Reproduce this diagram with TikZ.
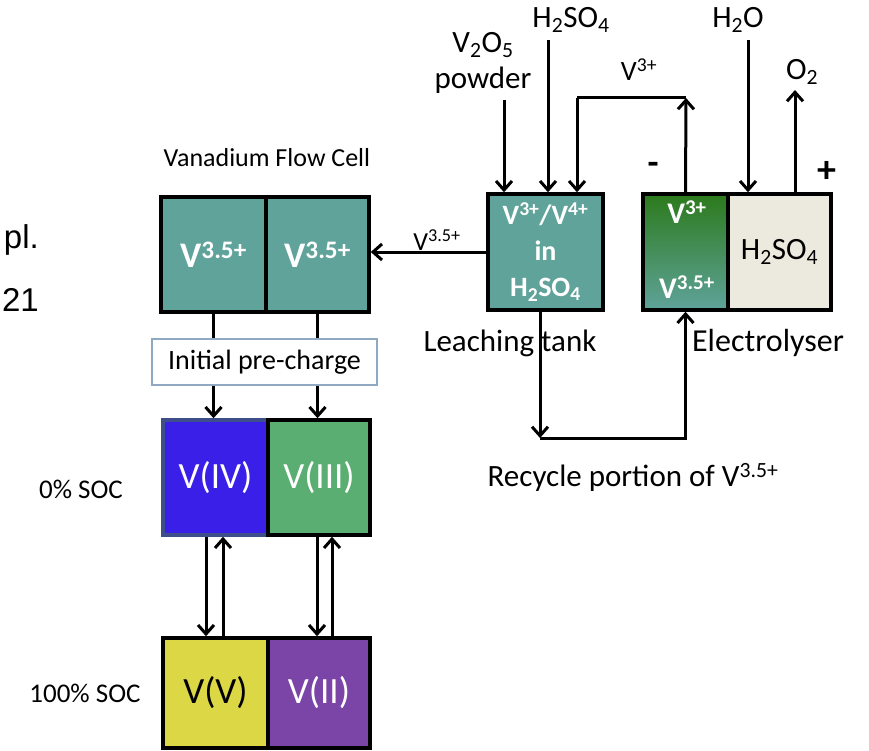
\documentclass[tikz,border=0pt]{standalone}
\usepackage{fontspec}
\setmainfont{Carlito}
\newfontfamily\robfont{Liberation Sans}
\usetikzlibrary{arrows.meta}
\definecolor{tealc}{HTML}{5FA39A}
\definecolor{blueiv}{HTML}{3A1FE8}
\definecolor{greeniii}{HTML}{5BAE72}
\definecolor{yellowv}{HTML}{DCD845}
\definecolor{purpleii}{HTML}{7B45A8}
\definecolor{beige}{HTML}{ECE9DF}
\definecolor{darkg}{HTML}{2C7A1C}
\definecolor{lightg}{HTML}{9DBB6B}
\definecolor{pcborder}{HTML}{8EA9C1}
\definecolor{ivborder}{HTML}{3D4E8A}
\tikzset{
  box/.style={draw=black, line width=3.5pt, inner sep=0pt, text=white},
  wl/.style={line width=3pt, draw=black},
  arr/.style={wl, -{Straight Barb[length=9pt,width=16pt]}},
  lbl/.style={font=\fontsize{31}{35}\selectfont, inner sep=0pt},
  slbl/.style={font=\fontsize{26}{30}\selectfont, inner sep=0pt},
  sidelbl/.style={font=\fontsize{27}{31}\selectfont, inner sep=0pt},
  big/.style={font=\fontsize{37}{42}\selectfont},
  bigb/.style={font=\bfseries\fontsize{36}{40}\selectfont},
}
\begin{document}
\begin{tikzpicture}[x=1pt,y=-1pt]
\useasboundingbox (0,0) rectangle (869,751);

% side fragments
\node[inner sep=0pt, anchor=east, font=\robfont\fontsize{33}{36}\selectfont] (pl) at (39,240) {pl.};
\node[inner sep=0pt, anchor=east, font=\robfont\fontsize{33}{36}\selectfont] (n21) at (39,300) {21};
\node[sidelbl] (soc0) at (81,489) {0\% SOC};
\node[sidelbl] (soc100) at (85,693) {100\% SOC};

% flow cell
\node[slbl] (fct) at (267,158) {Vanadium Flow Cell};
\node[box, fill=tealc, minimum width=105pt, minimum height=115pt, bigb] (fc1) at (213.5,254.5) {V\textsuperscript{3.5+}};
\node[box, fill=tealc, minimum width=103pt, minimum height=115pt, bigb] (fc2) at (317.5,254.5) {V\textsuperscript{3.5+}};

\node[draw=pcborder, line width=1.3pt, minimum width=225pt, minimum height=46pt, inner sep=0pt, font=\fontsize{28}{32}\selectfont] (pc) at (264.5,362) {Initial pre-charge};

\node[box, fill=blueiv, draw=ivborder, minimum width=105pt, minimum height=115pt, big] (s1) at (215.5,477.5) {V(IV)};
\node[box, fill=greeniii, minimum width=102pt, minimum height=115pt, big] (s2) at (319,477.5) {V(III)};
\node[box, fill=yellowv, text=black, minimum width=105pt, minimum height=110pt, big] (t1) at (215.5,693) {V(V)};
\node[box, fill=purpleii, minimum width=102pt, minimum height=110pt, big] (t2) at (319,693) {V(II)};

\draw[wl] (fc1.south) -- (fc1.south |- pc.north);
\draw[wl] (fc2.south) -- (fc2.south |- pc.north);
\draw[arr] (fc1.south |- pc.south) -- (fc1.south |- s1.north);
\draw[arr] (fc2.south |- pc.south) -- (fc2.south |- s2.north);

\draw[arr] ([xshift=-9.5pt]s1.south) -- ([xshift=-9.5pt]t1.north);
\draw[arr] ([xshift=7.5pt]t1.north) -- ([xshift=7.5pt]s1.south);
\draw[arr] ([xshift=-2pt]s2.south) -- ([xshift=-2pt]t2.north);
\draw[arr] ([xshift=13pt]t2.north) -- ([xshift=13pt]s2.south);

% leaching tank
\node[box, fill=tealc, minimum width=115pt, minimum height=116pt, align=center,
  font=\bfseries\fontsize{28}{36}\selectfont] (lt) at (545.5,252)
  {V\textsuperscript{3+}/V\textsuperscript{4+}\\in\\H\textsubscript{2}SO\textsubscript{4}};
\node[lbl] (ltl) at (510,343) {Leaching tank};

\draw[arr] (lt.west) -- (lt.west -| fc2.east);
\node[slbl] (v35a) at (437,240) {V\textsuperscript{3.5+}};

% electrolyser
\node[box, top color=darkg, middle color=lightg, bottom color=tealc, minimum width=85pt, minimum height=116pt] (elL) at (685.5,252) {};
\node[font=\bfseries\fontsize{30}{34}\selectfont, text=white, inner sep=0pt] (elv3) at (687,212) {V\textsuperscript{3+}};
\node[font=\bfseries\fontsize{30}{34}\selectfont, text=white, inner sep=0pt] (elv35) at (687,287) {V\textsuperscript{3.5+}};
\node[box, fill=beige, text=black, minimum width=103pt, minimum height=116pt, font=\fontsize{31}{35}\selectfont] (elR) at (779.5,252) {H\textsubscript{2}SO\textsubscript{4}};
\node[lbl, font=\fontsize{32}{36}\selectfont] (ell) at (768,343) {Electrolyser};
\node[font=\bfseries\fontsize{36}{40}\selectfont, inner sep=0pt] (minus) at (653,168) {-};
\node[font=\bfseries\fontsize{38}{42}\selectfont, inner sep=0pt] (plus) at (827,172) {+};

% top inputs
\node[lbl] (v2o5) at (483,45) {V\textsubscript{2}O\textsubscript{5}};
\node[lbl] (powder) at (483,80) {powder};
\node[lbl] (h2so4) at (571,20) {H\textsubscript{2}SO\textsubscript{4}};
\node[lbl] (h2o) at (738,20) {H\textsubscript{2}O};
\node[lbl] (o2) at (802,72) {O\textsubscript{2}};
\node[slbl, font=\fontsize{28}{32}\selectfont] (v3lbl) at (639,70) {V\textsuperscript{3+}};

\coordinate (v2o5s) at (504,100);
\coordinate (h2so4s) at (548,40);
\coordinate (h2os) at (748,40);
\coordinate (o2e) at (795,90);
\coordinate (rt) at (686,98);
\coordinate (rc) at (540,438);

\draw[arr] (v2o5s) -- (v2o5s |- lt.north);
\draw[arr] (h2so4s) -- (h2so4s |- lt.north);
\draw[arr] (elL.north) -- (rt);
\draw[wl] (rt) -- (577,98) coordinate (rl);
\draw[arr] (rl) -- (rl |- lt.north);
\draw[arr] (h2os) -- (h2os |- elR.north);
\draw[arr] (o2e |- elR.north) -- (o2e);

% recycle
\draw[arr] (lt.south -| rc) -- (rc);
\draw[arr] (rc) -| (elL.south);
\node[lbl] (rec) at (633,477) {Recycle portion of V\textsuperscript{3.5+}};
\end{tikzpicture}
\end{document}
